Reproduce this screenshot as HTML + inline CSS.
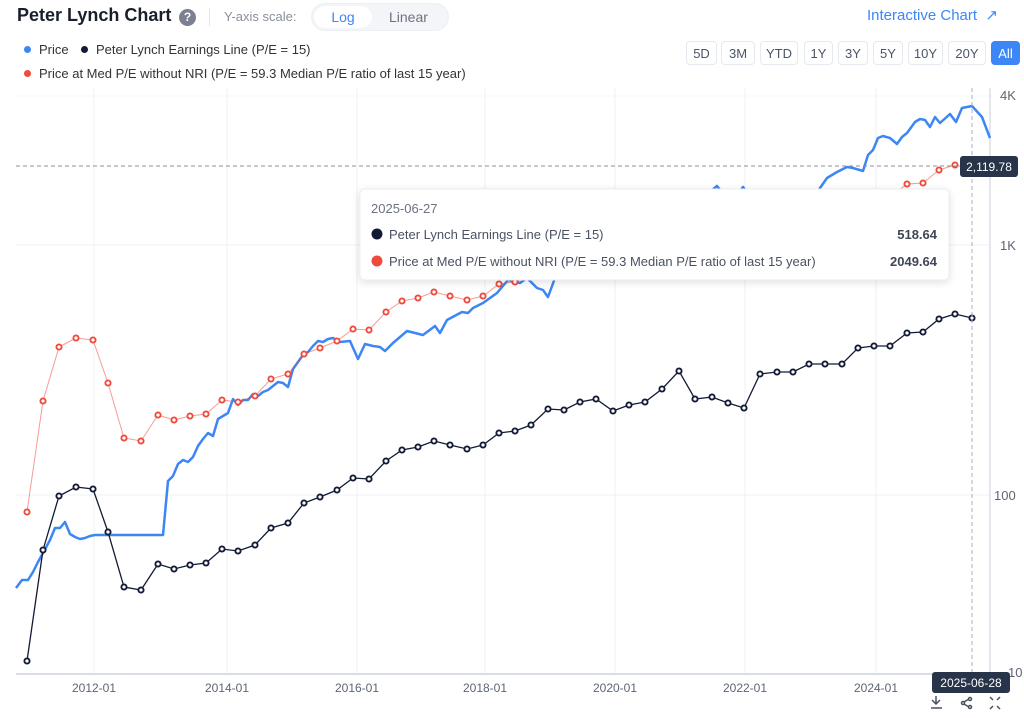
<!DOCTYPE html>
<html><head><meta charset="utf-8"><style>
body{margin:0;width:1024px;height:718px;background:#fff;font-family:"Liberation Sans",sans-serif;overflow:hidden;position:relative}
.a{position:absolute;white-space:nowrap}
.btn{position:absolute;top:41px;height:24px;border:1px solid #e6e9ef;border-radius:4px;font-size:13px;color:#4a5568;text-align:center;line-height:24px;box-sizing:border-box}
</style></head><body>
<div class="a" style="left:17px;top:5px;font-size:18px;font-weight:bold;color:#1a1f2e">Peter Lynch Chart</div>
<div class="a" style="left:179px;top:9px;width:17px;height:17px;border-radius:50%;background:#7b8190;color:#fff;font-size:12px;font-weight:bold;text-align:center;line-height:17px">?</div>
<div class="a" style="left:209px;top:8px;width:1px;height:18px;background:#e3e6ec"></div>
<div class="a" style="left:224px;top:9px;font-size:13px;color:#8a909c">Y-axis scale:</div>
<div class="a" style="left:311px;top:3px;width:138px;height:28px;border-radius:14px;background:#f3f5f8;border:1px solid #eceff3;box-sizing:border-box"></div>
<div class="a" style="left:314px;top:6px;width:58px;height:22px;border-radius:11px;background:#fff;color:#3d86f5;font-size:14px;text-align:center;line-height:22px">Log</div>
<div class="a" style="left:389px;top:9px;font-size:14px;color:#6b7280">Linear</div>
<div class="a" style="left:867px;top:6px;font-size:15px;color:#3d86f5">Interactive Chart &nbsp;↗</div>
<div class="a" style="left:24px;top:46px;width:7px;height:7px;border-radius:50%;background:#3d86f5"></div>
<div class="a" style="left:39px;top:42px;font-size:13px;color:#333">Price</div>
<div class="a" style="left:81px;top:46px;width:7px;height:7px;border-radius:50%;background:#121a35"></div>
<div class="a" style="left:96px;top:42px;font-size:13px;color:#333">Peter Lynch Earnings Line (P/E = 15)</div>
<div class="a" style="left:24px;top:70px;width:7px;height:7px;border-radius:50%;background:#ef4a3c"></div>
<div class="a" style="left:39px;top:66px;font-size:13px;color:#333">Price at Med P/E without NRI (P/E = 59.3 Median P/E ratio of last 15 year)</div>
<div class="btn" style="left:686px;width:31px">5D</div>
<div class="btn" style="left:721px;width:34px">3M</div>
<div class="btn" style="left:760px;width:38px">YTD</div>
<div class="btn" style="left:804px;width:29px">1Y</div>
<div class="btn" style="left:838px;width:30px">3Y</div>
<div class="btn" style="left:873px;width:30px">5Y</div>
<div class="btn" style="left:908px;width:35px">10Y</div>
<div class="btn" style="left:948px;width:38px">20Y</div>
<div class="btn" style="left:991px;width:29px;background:#3d86f5;color:#fff;border-color:#3d86f5">All</div>
<svg class="a" style="left:0;top:0" width="1024" height="718" font-family="Liberation Sans, sans-serif">
<g stroke="#eef0f4" stroke-width="1">
<line x1="16" y1="96" x2="990" y2="96" stroke-dasharray="2 2"/>
<line x1="16" y1="245" x2="990" y2="245"/><line x1="16" y1="495" x2="990" y2="495"/>
<line x1="94" y1="88" x2="94" y2="674"/><line x1="227" y1="88" x2="227" y2="674"/><line x1="357" y1="88" x2="357" y2="674"/><line x1="485" y1="88" x2="485" y2="674"/><line x1="615" y1="88" x2="615" y2="674"/><line x1="745" y1="88" x2="745" y2="674"/><line x1="876" y1="88" x2="876" y2="674"/>
</g>
<line x1="16" y1="674" x2="990" y2="674" stroke="#d8dde6" stroke-width="2"/>
<line x1="990" y1="88" x2="990" y2="674" stroke="#c9d0dc" stroke-width="1"/>
<g font-size="12" fill="#5d6575" text-anchor="middle">
<text x="94" y="692">2012-01</text><text x="227" y="692">2014-01</text><text x="357" y="692">2016-01</text><text x="485" y="692">2018-01</text><text x="615" y="692">2020-01</text><text x="745" y="692">2022-01</text><text x="876" y="692">2024-01</text>
</g>
<g font-size="13" fill="#5d6575">
<text x="1000" y="100">4K</text><text x="1000" y="250">1K</text><text x="994" y="500">100</text><text x="1008" y="677">10</text>
</g>
<polyline fill="none" stroke="#3d86f5" stroke-width="2.5" stroke-linejoin="round" points="16,588 22,580 28,580 33,572 38,562 43,553 50,540 55,528 60,528 65,522 70,534 75,537 80,539 85,538 90,536 95,535 163,535 168,481 173,476 178,464 183,460 188,462 193,457 198,446 203,439 208,433 213,436 218,419 223,416 228,413 233,399 238,405 243,400 248,400 253,394 258,396 263,392 268,390 273,386 278,382 283,383 288,387 293,369 298,362 303,355 308,352 313,346 318,341 323,342 328,339 333,338 340,342 350,341 358,359 365,344 373,346 380,347 385,351 393,343 407,331 423,335 435,326 440,333 447,320 462,312 468,313 473,308 483,303 497,293 508,280 520,283 527,278 537,288 543,290 548,297 555,278 580,262 610,245 640,228 670,212 700,200 717,186 725,196 735,198 743,187 750,197 790,199 815,196 820,188 827,178 837,172 847,167 853,168 863,171 868,155 873,150 878,138 883,136 890,138 897,144 902,137 907,133 915,122 920,119 925,120 930,127 935,117 940,123 950,114 956,122 962,108 972,106 982,117 990,138"/>
<g id="bk"></g>
<line x1="16" y1="166" x2="960" y2="166" stroke="#8a909c" stroke-dasharray="4 3"/>
<line x1="972" y1="88" x2="972" y2="674" stroke="#a8afbb" stroke-dasharray="4 3"/>
<rect x="360" y="189" width="589" height="91" rx="5" fill="#fff" stroke="#eceef2" style="filter:drop-shadow(0 2px 4px rgba(0,0,0,.12))"/>
<text x="371" y="213" font-size="13" fill="#6b7280">2025-06-27</text>
<circle cx="377" cy="234" r="5.5" fill="#121a35"/>
<text x="389" y="239" font-size="13" fill="#4a5163">Peter Lynch Earnings Line (P/E = 15)</text>
<text x="937" y="239" font-size="13" fill="#3f4656" font-weight="bold" text-anchor="end">518.64</text>
<circle cx="377" cy="261" r="5.5" fill="#ef4a3c"/>
<text x="389" y="266" font-size="13" fill="#4a5163">Price at Med P/E without NRI (P/E = 59.3 Median P/E ratio of last 15 year)</text>
<text x="937" y="266" font-size="13" fill="#3f4656" font-weight="bold" text-anchor="end">2049.64</text>
<rect x="960" y="156" width="58" height="21" rx="3" fill="#273449"/>
<text x="989" y="171" font-size="12" fill="#fff" text-anchor="middle">2,119.78</text>
<rect x="932" y="672" width="78" height="21" rx="3" fill="#273449"/>
<text x="971" y="687" font-size="12" fill="#fff" text-anchor="middle">2025-06-28</text>
<g stroke="#4a5163" stroke-width="1.5" fill="none">
<path d="M936 696v8M932 700l4 4 4-4M931 708h11"/>
<circle cx="963" cy="703" r="1.5"/><circle cx="970" cy="699" r="1.5"/><circle cx="970" cy="707" r="1.5"/><path d="M964 702l5-3M964 704l5 3"/>
<path d="M990 697l3 3M1000 697l-3 3M990 709l3-3M1000 709l-3-3"/>
</g>
</svg>
<script>
var P=[[27,661],[43,550],[59,496],[76,487],[93,489],[108,532],[124,587],[141,590],[158,564],[174,569],[190,565],[206,563],[222,549],[238,551],[255,545],[271,528],[288,523],[304,503],[320,497],[337,490],[353,478],[369,479],[386,461],[402,450],[418,447],[434,441],[450,445],[467,449],[483,445],[499,433],[515,431],[531,425],[548,409],[564,410],[580,402],[596,399],[613,411],[629,405],[645,402],[662,389],[679,371],[695,399],[712,397],[728,403],[744,408],[760,374],[777,372],[793,372],[809,364],[825,364],[842,364],[858,348],[874,346],[890,346],[907,333],[923,332],[939,319],[955,314],[972,318]];
var ns="http://www.w3.org/2000/svg",g=document.getElementById("bk");
function draw(off,col,w,op){var pl=document.createElementNS(ns,"polyline");pl.setAttribute("points",P.map(function(p){return p[0]+","+(p[1]-off)}).join(" "));pl.setAttribute("fill","none");pl.setAttribute("stroke",col);pl.setAttribute("stroke-width",w);pl.setAttribute("stroke-opacity",op);g.appendChild(pl);
P.forEach(function(p){var c=document.createElementNS(ns,"circle");c.setAttribute("cx",p[0]);c.setAttribute("cy",p[1]-off);c.setAttribute("r",2.6);c.setAttribute("fill","#fff");c.setAttribute("stroke",col);c.setAttribute("stroke-width",1.9);g.appendChild(c);});}
draw(149,"#ef4a3c",1,0.55);draw(0,"#121a35",1.3,1);
</script>
</body></html>
